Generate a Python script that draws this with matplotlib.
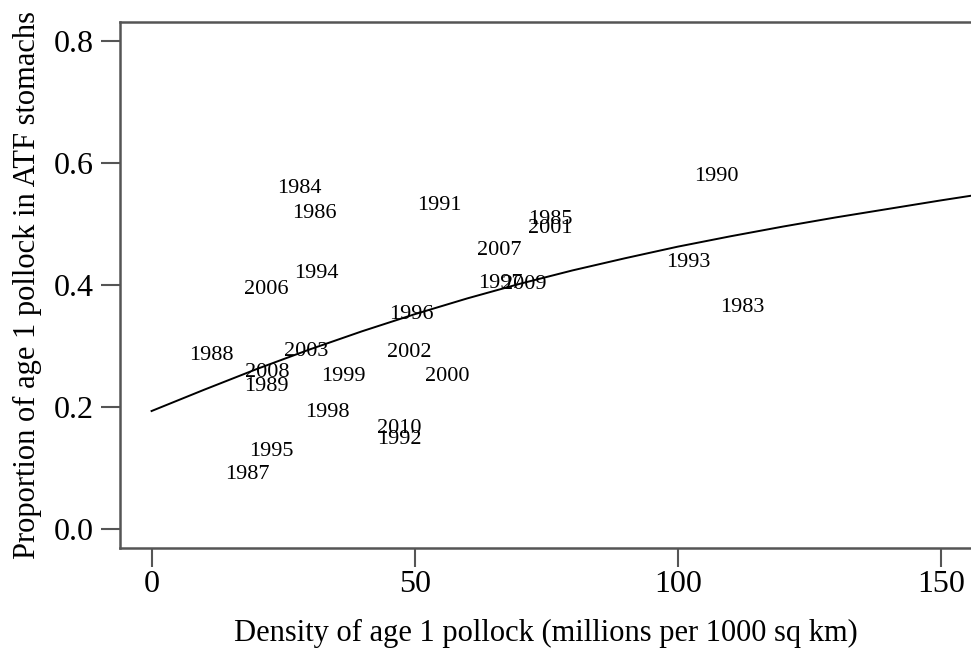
import matplotlib
matplotlib.use("Agg")
import matplotlib.pyplot as plt

# year labels placed at (density, proportion)
years = ["1983", "1984", "1985", "1986", "1987", "1988", "1989", "1990", "1991",
         "1992", "1993", "1994", "1995", "1996", "1997", "1998", "1999", "2000",
         "2001", "2002", "2003", "2006", "2007", "2008", "2009", "2010"]
density = [112.2, 28.1, 75.7, 31.0, 18.2, 11.4, 21.9, 107.4, 54.6,
           47.1, 101.9, 31.4, 22.8, 49.4, 66.2, 33.4, 36.5, 56.1,
           75.7, 48.9, 29.3, 21.7, 66.0, 21.9, 70.9, 47.0]
proportion = [0.363, 0.559, 0.507, 0.518, 0.089, 0.285, 0.233, 0.578, 0.530,
              0.147, 0.437, 0.419, 0.127, 0.351, 0.403, 0.191, 0.249, 0.249,
              0.492, 0.289, 0.290, 0.393, 0.457, 0.257, 0.401, 0.165]

# fitted curve
curve_x = [0, 10, 20, 30, 40, 50, 60, 70, 80, 90, 100, 110, 120, 130, 140, 150, 156]
curve_y = [0.193, 0.228, 0.262, 0.294, 0.324, 0.352, 0.378, 0.402, 0.424, 0.444,
           0.463, 0.480, 0.496, 0.511, 0.525, 0.539, 0.547]

plt.rcParams['font.family'] = ['Liberation Serif', 'DejaVu Serif']

fig = plt.figure(figsize=(9.71, 6.55), dpi=100)
ax = fig.add_axes([120 / 971, 1 - 548 / 655, (972.5 - 120) / 971, (548 - 22) / 655])

ax.plot(curve_x, curve_y, color='black', lw=1.4)
for yr, x, y in zip(years, density, proportion):
    ax.text(x, y, yr, ha='center', va='center', fontsize=16)

ax.set_xlim(-6, 156)
ax.set_ylim(-0.032, 0.832)
ax.set_xticks([0, 50, 100, 150])
ax.set_yticks([0.0, 0.2, 0.4, 0.6, 0.8])
ax.set_yticklabels(['0.0', '0.2', '0.4', '0.6', '0.8'])
ax.tick_params(direction='out', length=14, width=1.5, color='#555555',
               labelsize=23, pad=5)
ax.tick_params(axis='x', pad=2)
for s in ax.spines.values():
    s.set_color('#555555')
    s.set_linewidth(1.8)

ax.set_xlabel('Density of age 1 pollock (millions per 1000 sq km)', fontsize=22, labelpad=14)
ax.set_ylabel('Proportion of age 1 pollock in ATF stomachs', fontsize=22, labelpad=8)

fig.savefig('out.png', dpi=100)
